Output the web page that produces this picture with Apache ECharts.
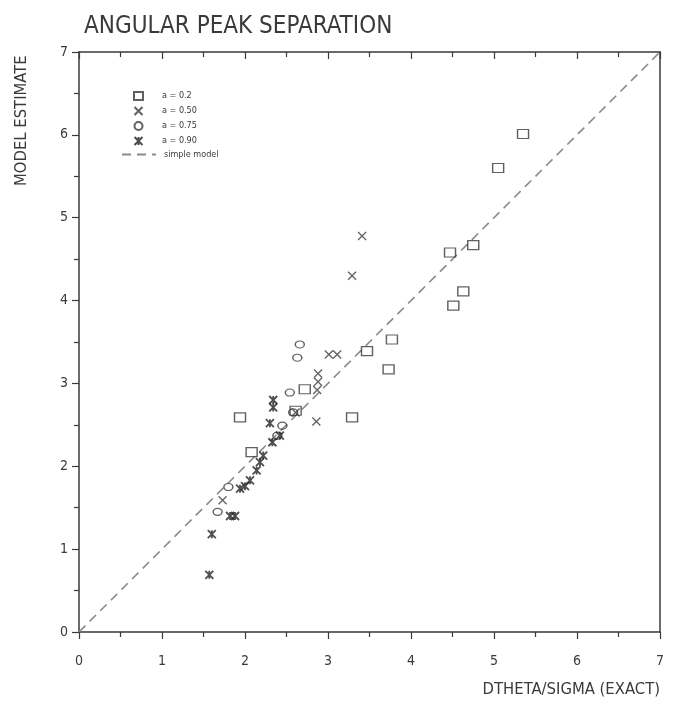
<!DOCTYPE html>
<html>
<head>
<meta charset="utf-8">
<style>
html,body{margin:0;padding:0;background:#fff;}
#chart{width:687px;height:702px;}
</style>
<script src="https://cdn.jsdelivr.net/npm/echarts@6/dist/echarts.min.js"></script>
</head>
<body>
<div id="chart"></div>
<script>
// ---- data ----
var xTicks = [0, 1, 2, 3, 4, 5, 6, 7];
var yTicks = [0, 1, 2, 3, 4, 5, 6, 7];

var a020 = [
  [5.35, 6.01], [5.05, 5.60], [4.47, 4.58], [4.75, 4.67], [4.63, 4.11],
  [4.51, 3.94], [3.77, 3.53], [3.47, 3.39], [3.73, 3.17], [3.29, 2.59],
  [1.94, 2.59], [2.72, 2.93], [2.61, 2.67], [2.08, 2.17]
];
var a050 = [
  [3.41, 4.78], [3.29, 4.30], [3.01, 3.35], [3.11, 3.35], [2.88, 3.12],
  [2.88, 3.02], [2.87, 2.92], [2.86, 2.54], [1.73, 1.59], [2.61, 2.65]
];
var a075 = [
  [2.66, 3.47], [2.63, 3.31], [2.54, 2.89], [2.58, 2.65], [2.45, 2.49],
  [2.39, 2.37], [1.80, 1.75], [1.67, 1.45]
];
var a090 = [
  [2.34, 2.80], [2.34, 2.71], [2.30, 2.52], [2.42, 2.37], [2.33, 2.29],
  [2.22, 2.13], [2.18, 2.05], [2.14, 1.95], [2.06, 1.83], [2.00, 1.76],
  [1.94, 1.73], [1.88, 1.40], [1.82, 1.40], [1.60, 1.18], [1.57, 0.69]
];
var simpleModel = [[0, 0], [7, 7]];

var seriesNames = ['a = 0.2', 'a = 0.50', 'a = 0.75', 'a = 0.90', 'simple model'];
var titleText = 'ANGULAR PEAK SEPARATION';
var xName = 'DTHETA/SIGMA (EXACT)';
var yName = 'MODEL ESTIMATE';

// ---- chart ----
var ink = '#3a3a3a';
var font = "'DejaVu Sans Condensed', 'DejaVu Sans', sans-serif";
var X_PATH = 'path://M0,0L10,10M10,0L0,10';
var AST_PATH = 'path://M0,0L10,10M10,0L0,10M5,0L5,10';

var chart = echarts.init(document.getElementById('chart'), null, {renderer: 'canvas'});

function baseAxis(pos, show) {
  return {
    type: 'value', min: 0, max: 7, interval: 1, position: pos,
    axisLine: {show: true, onZero: false, lineStyle: {color: ink, width: 1.5}},
    axisTick: {show: true, length: 7, inside: false, lineStyle: {color: ink, width: 1.2}},
    minorTick: {show: true, splitNumber: 2, length: 5, lineStyle: {color: ink, width: 1.2}},
    splitLine: {show: false},
    minorSplitLine: {show: false},
    axisLabel: {show: show, color: ink, fontSize: 14, fontFamily: font},
    z: 1
  };
}

var xBottom = baseAxis('bottom', true);
xBottom.axisLabel.margin = 22;
xBottom.axisLabel.formatter = function (v) { return xTicks.indexOf(v) >= 0 ? String(v) : ''; };
var xTop = baseAxis('top', false);
xTop.axisTick.inside = true; xTop.minorTick.show = true;
var yLeft = baseAxis('left', true);
yLeft.axisLabel.margin = 11;
yLeft.axisLabel.formatter = function (v) { return yTicks.indexOf(v) >= 0 ? String(v) : ''; };
var yRight = baseAxis('right', false);
yRight.axisTick.show = false; yRight.minorTick.show = false;

var option = {
  animation: false,
  backgroundColor: '#fff',
  title: {
    text: titleText, left: 79, top: 10,
    textStyle: {color: ink, fontSize: 24, fontWeight: 'normal', fontFamily: font}
  },
  grid: {left: 79, right: 27, top: 52, bottom: 70, containLabel: false},
  xAxis: [xBottom, xTop],
  yAxis: [yLeft, yRight],
  legend: [
    {
      data: seriesNames.slice(0, 4), orient: 'vertical', left: 128, top: 86,
      itemWidth: 9, itemHeight: 8, itemGap: 5,
      textStyle: {color: ink, fontSize: 9, lineHeight: 9, fontFamily: font, padding: [0, 0, 0, 14]}
    },
    {
      data: [seriesNames[4]], orient: 'vertical', left: 116, top: 145,
      itemWidth: 34, itemHeight: 6,
      itemStyle: {opacity: 0},
      textStyle: {color: ink, fontSize: 9, lineHeight: 9, fontFamily: font, padding: [0, 0, 0, 3]}
    }
  ],
  graphic: [
    {type: 'text', right: 27, top: 681,
     style: {text: xName, fill: ink, fontSize: 16.5, fontFamily: font}},
    {type: 'text', x: 13, y: 186, rotation: Math.PI / 2,
     style: {text: yName, fill: ink, fontSize: 16.5, fontFamily: font, textAlign: 'left', textVerticalAlign: 'top'}}
  ],
  series: [
    {
      name: seriesNames[4], type: 'line', data: simpleModel, showSymbol: false, symbol: 'none',
      itemStyle: {color: '#8a8a8a'},
      lineStyle: {color: '#8a8a8a', width: 1.6, type: [9, 6]}, z: 2
    },
    {
      name: seriesNames[0], type: 'scatter', data: a020, symbol: 'rect', symbolSize: [11, 9],
      itemStyle: {color: 'rgba(255,255,255,0)', borderColor: ink, borderWidth: 1.3}, z: 3
    },
    {
      name: seriesNames[1], type: 'scatter', data: a050, symbol: X_PATH, symbolSize: 8,
      itemStyle: {color: 'rgba(0,0,0,0)', borderColor: ink, borderWidth: 1.3}, z: 3
    },
    {
      name: seriesNames[2], type: 'scatter', data: a075, symbol: 'circle', symbolSize: [9, 7],
      itemStyle: {color: 'rgba(255,255,255,0)', borderColor: ink, borderWidth: 1.3}, z: 3
    },
    {
      name: seriesNames[3], type: 'scatter', data: a090, symbol: AST_PATH, symbolSize: 8,
      itemStyle: {color: 'rgba(0,0,0,0)', borderColor: '#222', borderWidth: 1.8}, z: 3
    }
  ]
};
chart.setOption(option);
</script>
</body>
</html>
